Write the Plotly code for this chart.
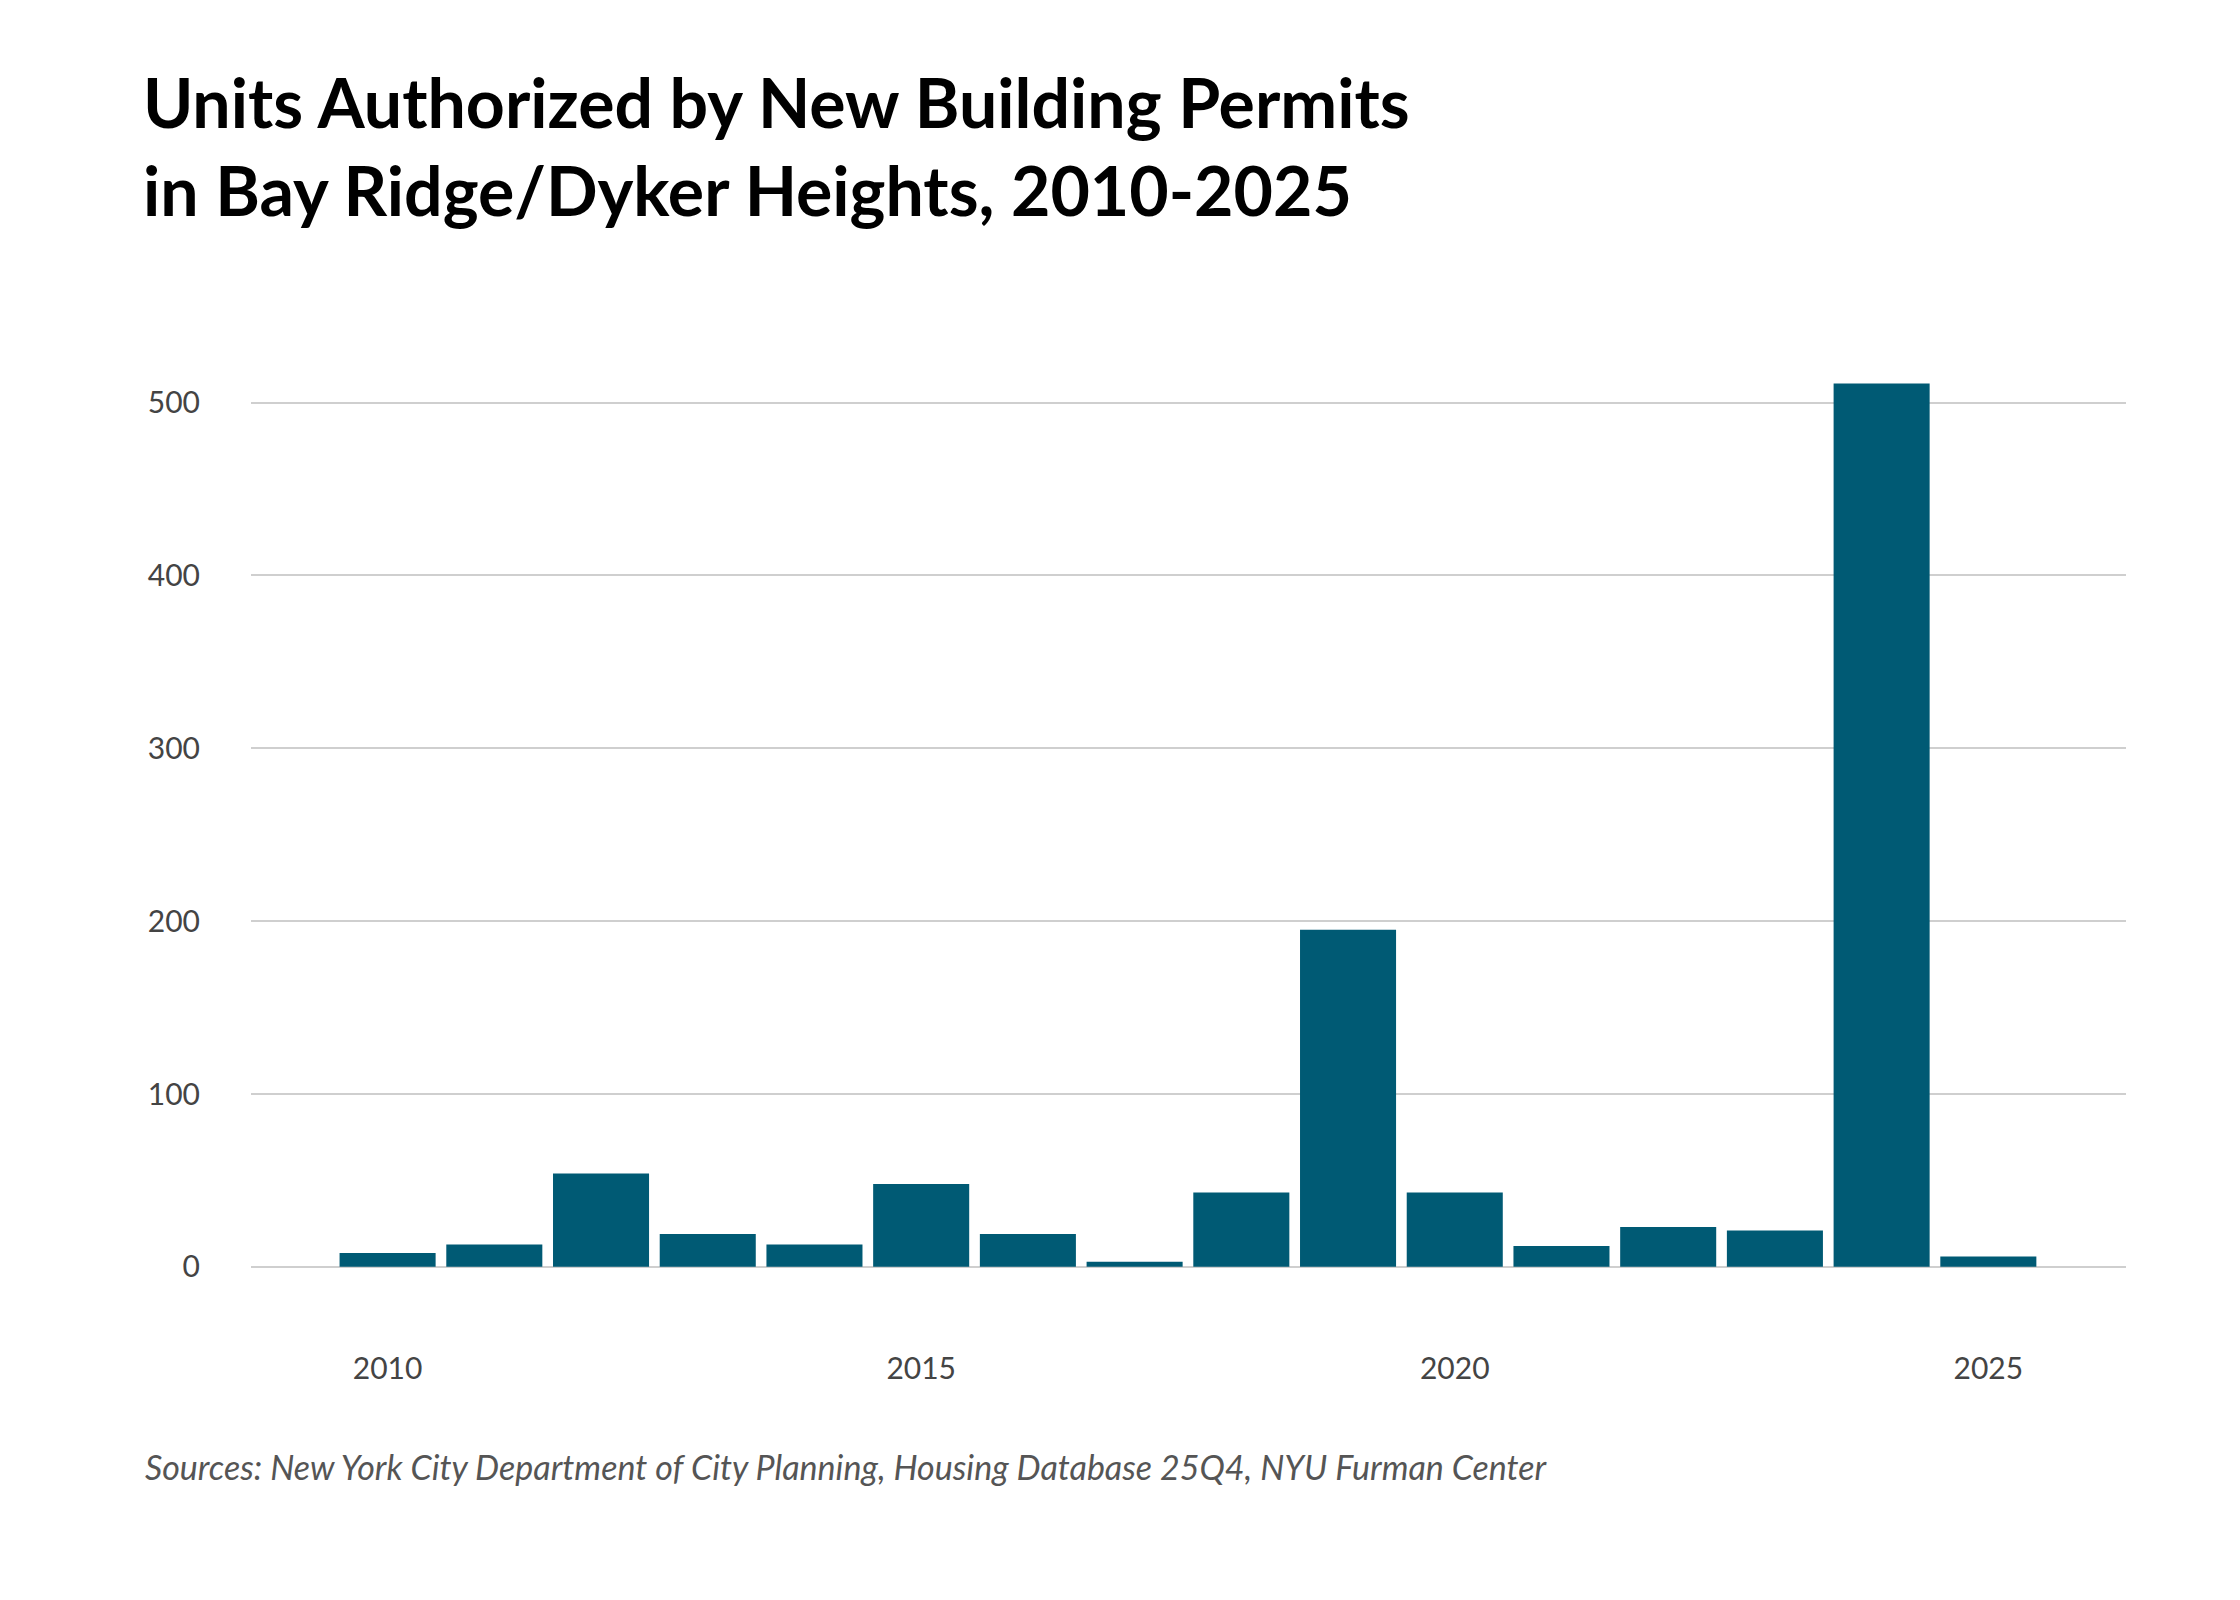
import plotly.graph_objects as go

years = list(range(2010, 2026))
units = [8, 13, 54, 19, 13, 48, 19, 3, 43, 195, 43, 12, 23, 21, 511, 6]
tick_years = [2010, 2015, 2020, 2025]
y_ticks = [0, 100, 200, 300, 400, 500]

fig = go.Figure()
fig.add_trace(go.Bar(x=years, y=units, marker_color="#005a74", marker_line_width=0))

fig.update_layout(
    width=2240, height=1600,
    paper_bgcolor="white", plot_bgcolor="white",
    margin={"l": 243, "r": 122, "t": 360, "b": 272},
    bargap=0.1,
    showlegend=False,
    font={"family": "Lato, Noto Sans, sans-serif", "color": "#444"},
    title={
        "text": "<b>Units Authorized by New Building Permits<br>in Bay Ridge/Dyker Heights, 2010-2025</b>",
        "x": 135 / 2240, "xanchor": "left", "xref": "container",
        "y": 1 - 120 / 1600, "yanchor": "top",
        "font": {"size": 68, "color": "#000", "family": "Lato, sans-serif"},
    },
    xaxis={
        "range": [2008.72, 2026.29], "tickvals": tick_years, "showgrid": False,
        "zeroline": False, "showline": False, "ticks": "", "ticklabelstandoff": 12,
        "tickfont": {"size": 30, "color": "#444"},
    },
    yaxis={
        "range": [-40, 520], "tickvals": y_ticks, "showgrid": True,
        "gridcolor": "#cfcfcf", "gridwidth": 2, "zeroline": True, "zerolinecolor": "#cfcfcf",
        "zerolinewidth": 2, "ticks": "", "ticklabelstandoff": 50,
        "tickfont": {"size": 30, "color": "#444"},
    },
)
fig.add_annotation(
    text="<i>Sources: New York City Department of City Planning, Housing Database 25Q4, NYU Furman Center</i>",
    xref="paper", yref="paper", x=(135 - 243) / (2240 - 243 - 122), y=-(1458 - 1328) / 968,
    xanchor="left", yanchor="middle", showarrow=False,
    font={"size": 34, "color": "#555"},
)
fig.write_html("out.html")
